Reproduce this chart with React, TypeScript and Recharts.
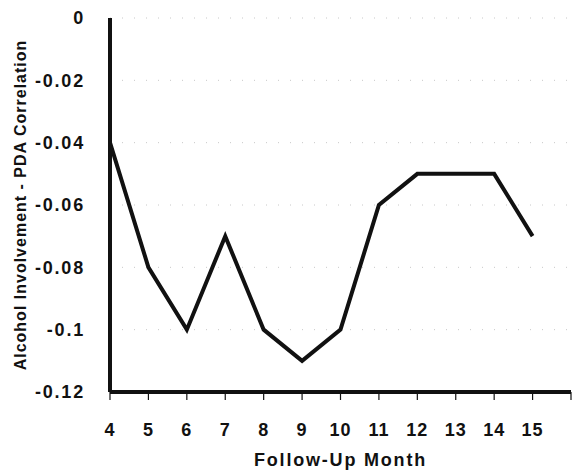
import React from "react";
import { LineChart, Line, XAxis, YAxis, CartesianGrid } from "recharts";

const months = [4, 5, 6, 7, 8, 9, 10, 11, 12, 13, 14, 15];
const correlation = [-0.04, -0.08, -0.1, -0.07, -0.1, -0.11, -0.1, -0.06, -0.05, -0.05, -0.05, -0.07];
const xTicks = [4, 5, 6, 7, 8, 9, 10, 11, 12, 13, 14, 15, 16];
const yTicks = [-0.12, -0.1, -0.08, -0.06, -0.04, -0.02, 0];

const data = months.map((m, i) => ({ month: m, r: correlation[i] }));

const font = "'Liberation Sans', Arial, sans-serif";

const YTitle = (props: any) => {
  const { viewBox } = props;
  const cy = viewBox.y + viewBox.height / 2;
  return (
    <text
      x={20}
      y={cy}
      transform={`rotate(-90, 20, ${cy})`}
      textAnchor="middle"
      dominantBaseline="central"
      fontFamily={font}
      fontWeight="bold"
      fontSize={16}
      letterSpacing={1}
      fill="#111"
    >
      Alcohol Involvement - PDA Correlation
    </text>
  );
};

export default function App() {
  return (
    <div style={{ position: "absolute", left: 0, top: 0, background: "#fff" }}>
      <LineChart
        width={574}
        height={470}
        data={data}
        margin={{ top: 18, right: 3, bottom: 0, left: 0 }}
      >
        <CartesianGrid
          vertical={false}
          stroke="#c8c8c8"
          strokeDasharray="1 11"
          strokeWidth={1}
        />
        <XAxis
          dataKey="month"
          type="number"
          domain={[4, 16]}
          ticks={xTicks}
          interval={0}
          tickFormatter={(v: number) => (v === 16 ? "" : String(v))}
          height={78}
          axisLine={{ stroke: "#111", strokeWidth: 4 }}
          tickLine={{ stroke: "#111", strokeWidth: 1.2 }}
          tickSize={8}
          tickMargin={23}
          tick={{ fill: "#111", fontFamily: font, fontWeight: "bold", fontSize: 18, letterSpacing: 1 }}
          label={{
            value: "Follow-Up Month",
            position: "insideBottom",
            offset: 4,
            fill: "#111",
            fontFamily: font,
            fontWeight: "bold",
            fontSize: 18,
            letterSpacing: 1.8,
          }}
        />
        <YAxis
          type="number"
          domain={[-0.12, 0]}
          ticks={yTicks}
          interval={0}
          tickFormatter={(v: number) => String(v)}
          width={110}
          axisLine={{ stroke: "#111", strokeWidth: 4 }}
          tickLine={false}
          tickSize={0}
          tickMargin={25}
          tick={{ fill: "#111", fontFamily: font, fontWeight: "bold", fontSize: 18, letterSpacing: 1.8 }}
          label={<YTitle />}
        />
        <Line
          type="linear"
          dataKey="r"
          stroke="#111"
          strokeWidth={4}
          dot={false}
          isAnimationActive={false}
        />
      </LineChart>
    </div>
  );
}
